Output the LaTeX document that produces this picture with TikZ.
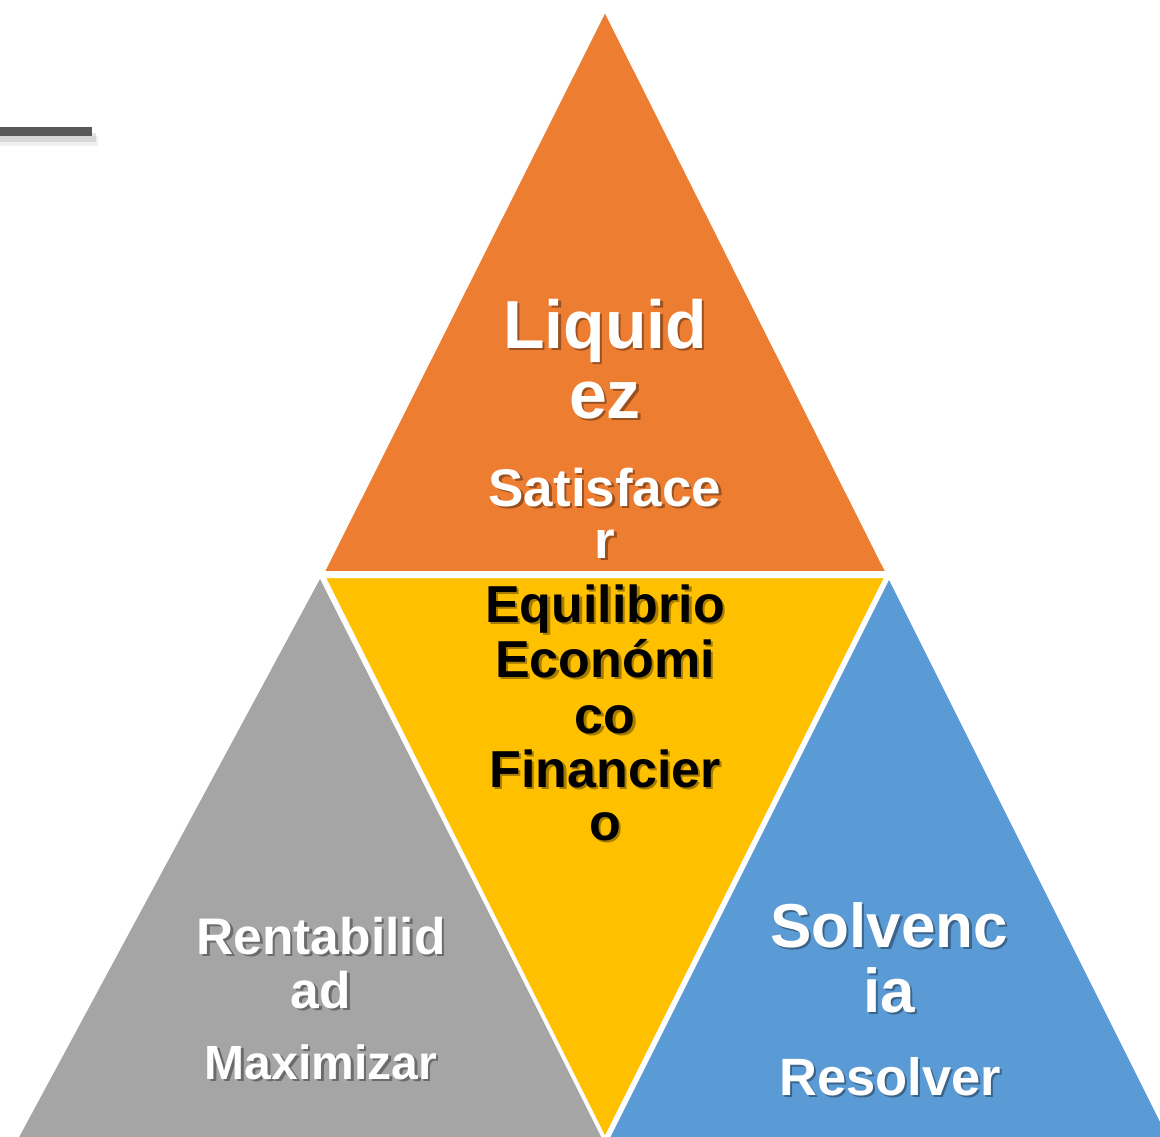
\documentclass[tikz,border=0pt]{standalone}
\usepackage{fontspec}
\setmainfont{Liberation Sans}
\definecolor{orng}{HTML}{ED7D31}
\definecolor{yllw}{HTML}{FFC000}
\definecolor{gry}{HTML}{A5A5A5}
\definecolor{blu}{HTML}{5B9BD5}
\definecolor{barc}{HTML}{595959}
\tikzset{
  tri/.style={line width=4pt, draw=white, line join=miter},
  lbl/.style={anchor=base, inner sep=0pt, font=\bfseries},
  shw/.style={lbl, text=black, text opacity=0.35},
}
\begin{document}
\begin{tikzpicture}[x=1pt,y=-1pt]
\useasboundingbox (0,0) rectangle (1160,1136);
\fill[white] (0,0) rectangle (1160,1136);
% top-left bar with soft shadow
\fill[black, opacity=0.10] (0,133) rectangle (96,142);
\fill[black, opacity=0.06] (0,136) rectangle (98,146);
\fill[barc] (0,127) rectangle (92,136);
% triangles
\fill[gry] (320,579) -- (624,1180) -- (-4,1180) -- cycle;
\fill[blu] (889,580) -- (1189,1180) -- (589,1180) -- cycle;
\filldraw[tri, fill=orng] (605,9) -- (888,573) -- (322,573) -- cycle;
\filldraw[tri, fill=yllw] (323,576) -- (887,576) -- (605,1140) -- cycle;
% labels: x, baseline, size, colour, name, text
\foreach \x/\y/\s/\c/\n/\t in {
  605/348/68/white/liq1/Liquid,
  605/418/68/white/liq2/ez,
  605/506/53/white/sat1/Satisface,
  605/558/53/white/sat2/r,
  605/622/52/black/eq1/Equilibrio,
  605/677/52/black/eq2/Económi,
  605/733/52/black/eq3/co,
  605/787/52/black/eq4/Financier,
  605/840/52/black/eq5/o,
  321/954/51.5/white/ren1/Rentabilid,
  321/1008/51.5/white/ren2/ad,
  321/1079/48/white/max1/Maximizar,
  889/947/62/white/sol1/Solvenc,
  889/1012/62/white/sol2/ia,
  890/1095/52.5/white/res1/Resolver}{
  \node[shw, font=\fontsize{\s}{\s}\selectfont\bfseries] (\n-sh) at (\x+2.5,\y+2.5) {\t};
  \node[lbl, text=\c, font=\fontsize{\s}{\s}\selectfont\bfseries] (\n) at (\x,\y) {\t};
}
\end{tikzpicture}
\end{document}
